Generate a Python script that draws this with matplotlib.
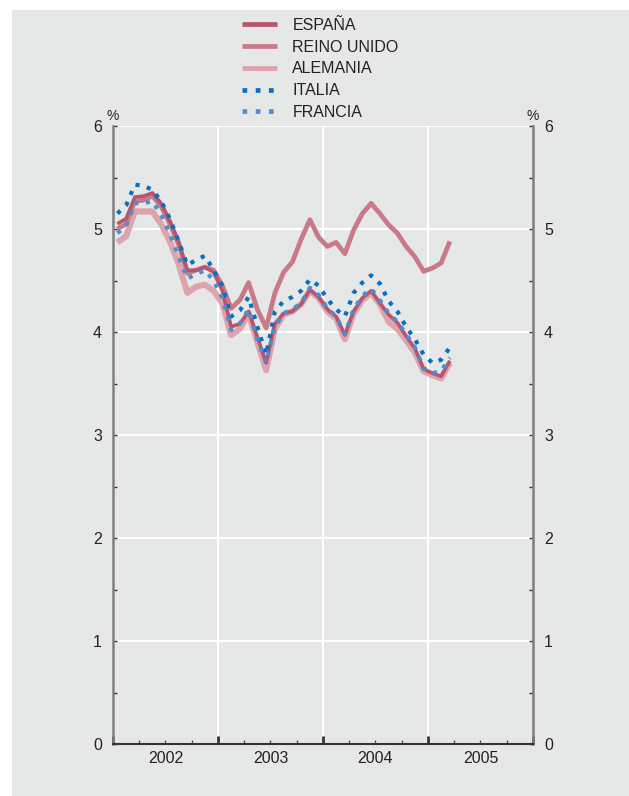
import matplotlib
matplotlib.use("Agg")
import matplotlib.pyplot as plt
from matplotlib.patches import Rectangle
import numpy as np

plt.rcParams['font.family'] = ['Liberation Sans', 'DejaVu Sans']

# Monthly data, Jan 2002 - Mar 2005
months = np.arange(39) + 0.5  # month index (mid-month), 0 = Jan 2002

espana = [5.05, 5.10, 5.31, 5.32, 5.35, 5.25, 5.08, 4.88, 4.60, 4.60, 4.63, 4.58,
          4.40, 4.05, 4.08, 4.20, 3.95, 3.70, 4.08, 4.18, 4.20, 4.27, 4.41, 4.34,
          4.22, 4.15, 3.97, 4.20, 4.33, 4.40, 4.28, 4.17, 4.09, 3.96, 3.84, 3.64,
          3.60, 3.57, 3.72]
reino_unido = [5.00, 5.05, 5.27, 5.28, 5.32, 5.22, 5.05, 4.85, 4.57, 4.60, 4.63, 4.60,
               4.45, 4.23, 4.31, 4.48, 4.22, 4.04, 4.38, 4.58, 4.68, 4.90, 5.09, 4.92,
               4.83, 4.87, 4.76, 4.99, 5.15, 5.25, 5.15, 5.04, 4.96, 4.83, 4.73, 4.59,
               4.62, 4.67, 4.88]
alemania = [4.87, 4.93, 5.17, 5.17, 5.17, 5.05, 4.88, 4.66, 4.38, 4.44, 4.46, 4.40,
            4.28, 3.97, 4.03, 4.18, 3.90, 3.63, 4.03, 4.17, 4.20, 4.27, 4.40, 4.33,
            4.20, 4.13, 3.93, 4.18, 4.31, 4.38, 4.27, 4.10, 4.03, 3.92, 3.80, 3.62,
            3.58, 3.55, 3.70]
italia = [5.15, 5.23, 5.43, 5.42, 5.38, 5.27, 5.10, 4.88, 4.65, 4.70, 4.74, 4.60,
          4.45, 4.15, 4.21, 4.34, 4.05, 3.78, 4.20, 4.30, 4.34, 4.40, 4.51, 4.45,
          4.32, 4.22, 4.15, 4.38, 4.48, 4.55, 4.47, 4.30, 4.20, 4.05, 3.93, 3.78,
          3.70, 3.73, 3.85]
francia = [4.96, 5.03, 5.25, 5.25, 5.27, 5.14, 4.95, 4.73, 4.52, 4.56, 4.60, 4.50,
           4.33, 4.02, 4.08, 4.22, 3.92, 3.70, 4.05, 4.18, 4.22, 4.28, 4.43, 4.36,
           4.23, 4.15, 3.98, 4.22, 4.35, 4.42, 4.31, 4.18, 4.10, 3.98, 3.85, 3.65,
           3.60, 3.62, 3.75]

years = ['2002', '2003', '2004', '2005']
yticks = [0, 1, 2, 3, 4, 5, 6]

BG = '#e6e7e7'
fig = plt.figure(figsize=(6.29, 7.96), dpi=100)
fig.patch.set_facecolor('white')
fig.patches.append(Rectangle((12/629, 0), 1 - 12/629, (796-10)/796,
                             transform=fig.transFigure, facecolor=BG,
                             edgecolor='none', zorder=-10))

ax = fig.add_axes([113/629, 52/796, 420/629, 618/796])
ax.set_zorder(1)
ax.set_facecolor(BG)
ax.set_xlim(0, 48)
ax.set_ylim(0, 6)

# grid
for yv in yticks[1:]:
    ax.axhline(yv, color='white', lw=1.5, zorder=1)
for xv in [12, 24, 36]:
    ax.axvline(xv, color='white', lw=1.5, zorder=1)

l1, = ax.plot(months, alemania, color='#dea3ad', lw=4.4, solid_capstyle='butt', zorder=2, label='ALEMANIA')
l2, = ax.plot(months, reino_unido, color='#c97a88', lw=3.4, solid_capstyle='butt', zorder=3, label='REINO UNIDO')
l3, = ax.plot(months, espana, color='#b8546b', lw=2.6, solid_capstyle='butt', zorder=4, label='ESPAÑA')
l4, = ax.plot(months, italia, color='#0a6fbf', lw=3.0, ls=(0, (1, 1.8)), zorder=5, label='ITALIA')
l5, = ax.plot(months, francia, color='#4a90d0', lw=3.0, ls=(0, (1, 1.8)), zorder=6, label='FRANCIA')

ax.spines['top'].set_visible(False)
ax.spines['left'].set_color('#808080')
ax.spines['left'].set_linewidth(1.8)
ax.spines['right'].set_color('#808080')
ax.spines['right'].set_linewidth(1.8)
ax.spines['bottom'].set_color('#333333')
ax.spines['bottom'].set_linewidth(1.5)

ax.set_yticks(yticks)
ax.set_yticks(np.arange(0.5, 6, 1.0), minor=True)
ax.tick_params(axis='y', which='both', direction='in', length=3, width=1, color='#333333',
               labelsize=11.5, pad=8, left=True, right=True, labelleft=True, labelright=True,
               labelcolor='#222222')

ax.set_xticks([0, 12, 24, 36, 48])
ax.set_xticklabels([])
minor_pos = [m for m in range(3, 48, 3) if m % 12 != 0]
minor_lab = [years[m // 12] if m % 12 == 6 else '' for m in minor_pos]
ax.set_xticks(minor_pos, minor=True)
ax.set_xticklabels(minor_lab, minor=True)
ax.tick_params(axis='x', which='major', direction='in', length=6, width=2, color='#333333')
ax.tick_params(axis='x', which='minor', direction='in', length=3, width=1, color='#555555',
               labelsize=11.5, pad=5, labelcolor='#222222')

ax.text(0, 1.005, '%', transform=ax.transAxes, fontsize=10, color='#222222', ha='center', va='bottom')
ax.text(1, 1.005, '%', transform=ax.transAxes, fontsize=10, color='#222222', ha='center', va='bottom')

leg = fig.legend(handles=[l3, l2, l1, l4, l5],
                 labels=['ESPAÑA', 'REINO UNIDO', 'ALEMANIA', 'ITALIA', 'FRANCIA'],
                 loc='upper left', bbox_to_anchor=(242/629, 1 - 18/796),
                 frameon=False, fontsize=11.5, handlelength=2.2, handletextpad=0.95,
                 labelspacing=0.42, borderpad=0, borderaxespad=0)
for t in leg.get_texts():
    t.set_color('#222222')
for h in leg.legend_handles:
    h.set_linewidth(3.4)

fig.savefig('out.png', dpi=100, facecolor=fig.get_facecolor())
